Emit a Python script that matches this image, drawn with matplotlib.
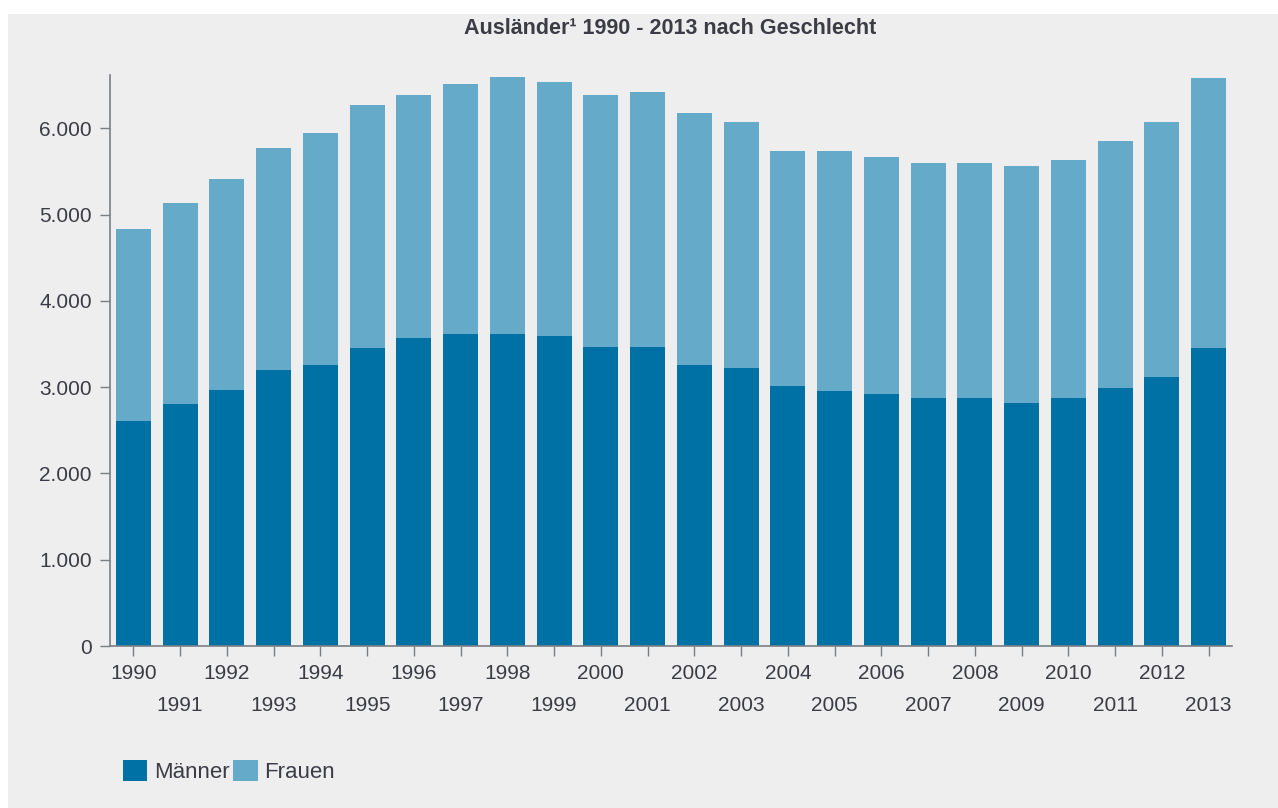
import matplotlib.pyplot as plt
from matplotlib.patches import Patch, Rectangle

plt.rcParams['font.family'] = ['Liberation Sans', 'DejaVu Sans']

# Ausländer nach Geschlecht, 1990 - 2013
jahre = list(range(1990, 2014))
maenner = [2610, 2800, 2970, 3200, 3260, 3450, 3570, 3620, 3620, 3590, 3470, 3470,
           3260, 3220, 3010, 2960, 2920, 2870, 2870, 2820, 2870, 2990, 3120, 3450]
gesamt = [4840, 5140, 5420, 5770, 5950, 6270, 6390, 6510, 6600, 6540, 6390, 6420,
          6180, 6070, 5740, 5740, 5670, 5600, 5600, 5560, 5630, 5850, 6070, 6580]
frauen = [g - m for g, m in zip(gesamt, maenner)]

c_maenner = '#0071a4'
c_frauen = '#66aac9'
bg = '#edeeed'
txt = '#3c3c46'
axcol = '#7a7f86'

fig = plt.figure(figsize=(12.78, 8.08), dpi=100)
fig.patch.set_facecolor('white')
fig.patches.append(Rectangle((8 / 1278, 0), 1 - 8 / 1278, 1 - 14 / 808,
                             transform=fig.transFigure, facecolor=bg,
                             edgecolor='none', zorder=-10))

ax = fig.add_axes([110 / 1278, 1 - 646 / 808, (1232 - 110) / 1278, (646 - 75) / 808])
ax.set_facecolor('none')

x = list(range(len(jahre)))
ax.bar(x, maenner, width=0.75, color=c_maenner, linewidth=0)
ax.bar(x, frauen, width=0.75, bottom=maenner, color=c_frauen, linewidth=0)

ax.set_xlim(-0.5, len(jahre) - 0.5)
ax.set_ylim(0, 6620)

ax.set_yticks([0, 1000, 2000, 3000, 4000, 5000, 6000])
ax.set_yticklabels(['0', '1.000', '2.000', '3.000', '4.000', '5.000', '6.000'])
ax.set_xticks(x)
ax.set_xticklabels([str(j) if i % 2 == 0 else '\n' + str(j) for i, j in enumerate(jahre)],
                   linespacing=1.85)

for s in ['top', 'right']:
    ax.spines[s].set_visible(False)
for s in ['left', 'bottom']:
    ax.spines[s].set_color(axcol)
    ax.spines[s].set_linewidth(1.2)

ax.tick_params(axis='both', colors=axcol, length=7, width=1, labelsize=15,
               labelcolor=txt)
ax.tick_params(axis='x', pad=6)
ax.tick_params(axis='y', pad=6)

fig.text(670 / 1278, 1 - 29 / 808, 'Ausländer¹ 1990 - 2013 nach Geschlecht',
         ha='center', va='center', fontsize=15.5, fontweight='bold', color=txt)

handles = [Patch(facecolor=c_maenner, label='Männer'),
           Patch(facecolor=c_frauen, label='Frauen')]
fig.legend(handles=handles, loc='lower left', ncol=2, frameon=False,
           bbox_to_anchor=(123 / 1278, 1 - 783 / 808), borderaxespad=0, borderpad=0,
           fontsize=16, labelcolor=txt, handlelength=1.1, handleheight=1.1,
           handletextpad=0.3, columnspacing=0.15)

fig.savefig('out.png', dpi=100, facecolor=fig.get_facecolor())
